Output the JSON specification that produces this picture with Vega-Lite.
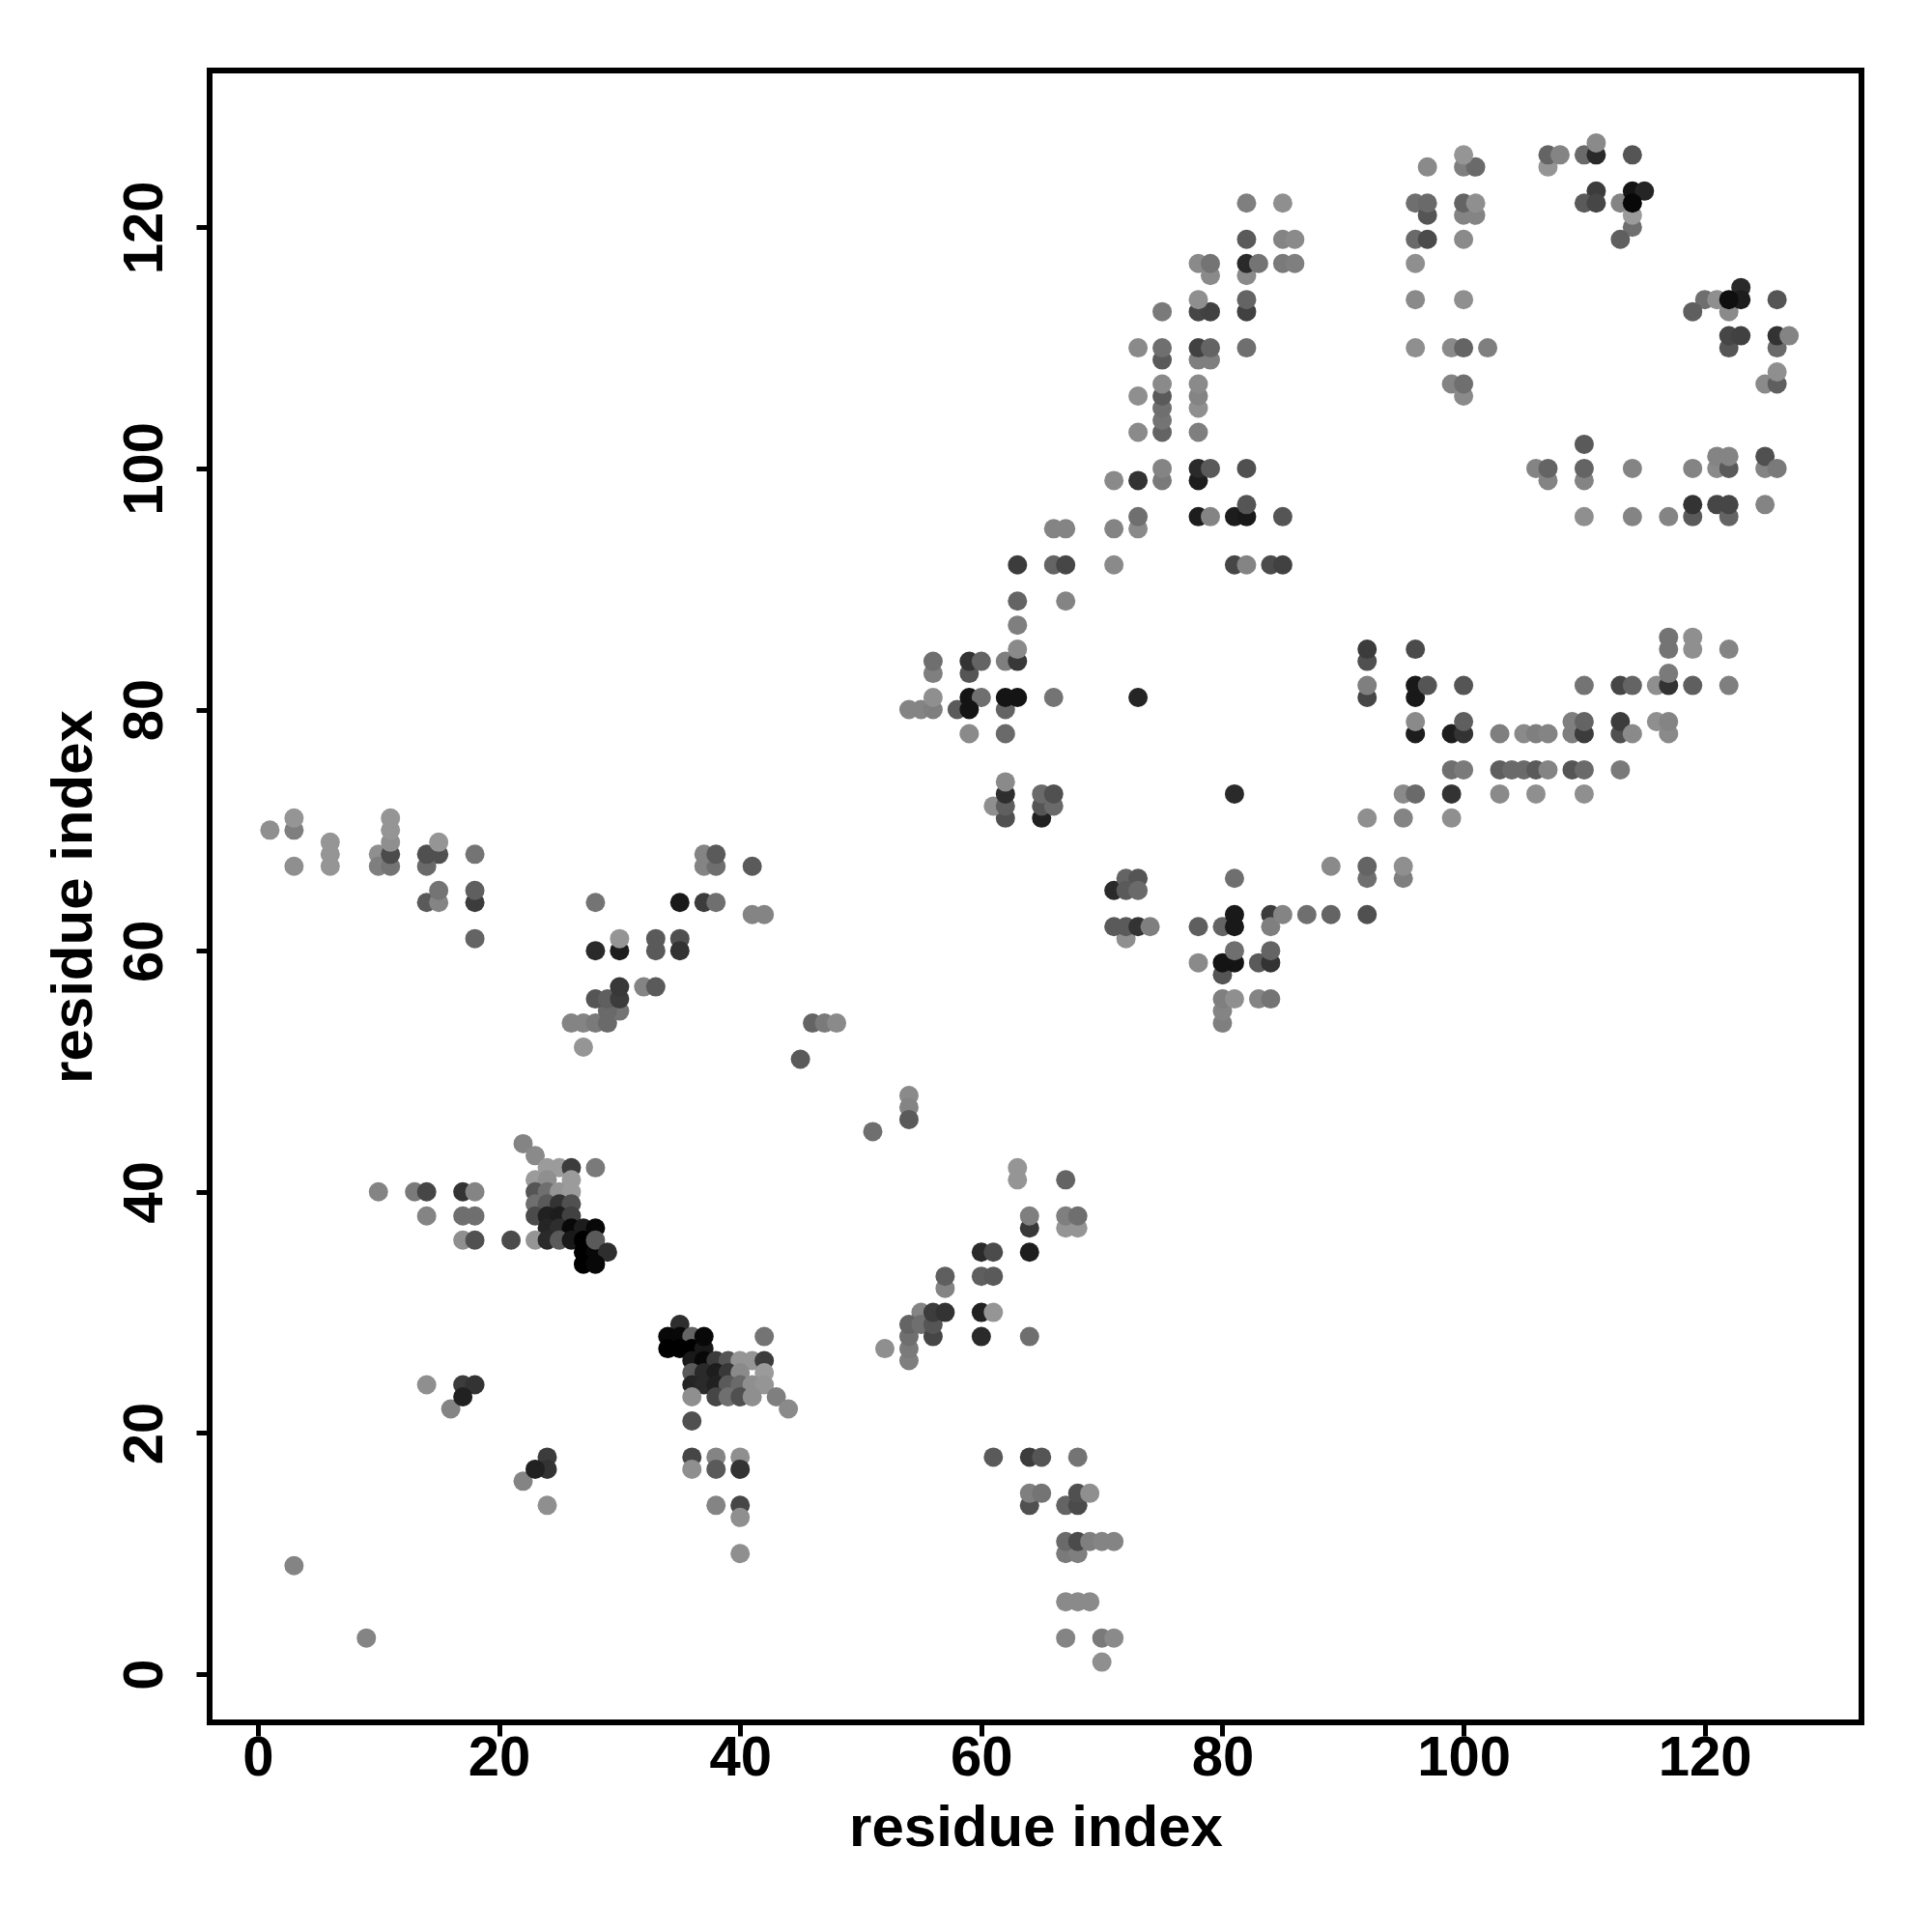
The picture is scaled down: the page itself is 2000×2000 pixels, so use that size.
{"$schema":"https://vega.github.io/schema/vega-lite/v6.json","width":1710,"height":1710,"autosize":{"type":"none"},"padding":{"left":217,"top":73,"right":73,"bottom":217},"background":"white","view":{"stroke":"black","strokeWidth":6,"fill":"white"},"data":{"values":[
{"i":3,"j":9,"d":130},{"i":9,"j":3,"d":130},{"i":16,"j":22,"d":130},{"i":14,"j":24,"d":140},{"i":17,"j":24,"d":60},{"i":18,"j":24,"d":50},{"i":17,"j":23,"d":30},{"i":22,"j":16,"d":130},{"i":24,"j":18,"d":60},{"i":24,"j":17,"d":50},{"i":23,"j":17,"d":30},{"i":24,"j":14,"d":140},
{"i":35,"j":29,"d":45},{"i":34,"j":28,"d":5},{"i":35,"j":28,"d":5},{"i":36,"j":28,"d":100},{"i":42,"j":28,"d":115},{"i":34,"j":27,"d":0},{"i":35,"j":27,"d":0},{"i":36,"j":27,"d":0},{"i":37,"j":27,"d":20},{"i":37,"j":28,"d":5},{"i":36,"j":26,"d":20},{"i":37,"j":26,"d":5},{"i":38,"j":26,"d":60},{"i":39,"j":26,"d":85},{"i":40,"j":26,"d":145},{"i":41,"j":26,"d":145},{"i":42,"j":26,"d":60},{"i":36,"j":25,"d":90},{"i":37,"j":25,"d":40},{"i":38,"j":25,"d":25},{"i":39,"j":25,"d":55},{"i":40,"j":25,"d":135},{"i":42,"j":25,"d":150},{"i":36,"j":24,"d":35},{"i":37,"j":24,"d":40},{"i":38,"j":24,"d":30},{"i":39,"j":24,"d":90},{"i":40,"j":24,"d":105},{"i":41,"j":24,"d":140},{"i":42,"j":24,"d":145},{"i":36,"j":23,"d":140},{"i":38,"j":23,"d":70},{"i":39,"j":23,"d":110},{"i":40,"j":23,"d":80},{"i":41,"j":23,"d":140},{"i":43,"j":23,"d":125},{"i":44,"j":22,"d":135},{"i":36,"j":21,"d":80},
{"i":22,"j":44,"d":130},{"i":23,"j":43,"d":135},{"i":24,"j":42,"d":150},{"i":25,"j":42,"d":150},{"i":26,"j":42,"d":60},{"i":28,"j":42,"d":120},{"i":23,"j":41,"d":150},{"i":24,"j":41,"d":140},{"i":26,"j":41,"d":150},{"i":23,"j":40,"d":85},{"i":24,"j":40,"d":110},{"i":25,"j":40,"d":145},{"i":26,"j":40,"d":150},{"i":23,"j":39,"d":110},{"i":24,"j":39,"d":90},{"i":25,"j":39,"d":50},{"i":26,"j":39,"d":80},{"i":23,"j":38,"d":75},{"i":24,"j":38,"d":30},{"i":25,"j":38,"d":25},{"i":26,"j":38,"d":65},{"i":24,"j":37,"d":35},{"i":25,"j":37,"d":45},{"i":26,"j":37,"d":5},{"i":27,"j":37,"d":25},{"i":28,"j":37,"d":5},{"i":21,"j":36,"d":75},{"i":23,"j":36,"d":145},{"i":24,"j":36,"d":40},{"i":25,"j":36,"d":90},{"i":26,"j":36,"d":20},{"i":27,"j":36,"d":0},{"i":27,"j":35,"d":0},{"i":28,"j":35,"d":5},{"i":28,"j":36,"d":90},{"i":29,"j":35,"d":45},{"i":27,"j":34,"d":0},{"i":28,"j":34,"d":5},
{"i":10,"j":40,"d":130},{"i":13,"j":40,"d":120},{"i":14,"j":40,"d":70},{"i":14,"j":38,"d":130},{"i":17,"j":40,"d":50},{"i":18,"j":40,"d":130},{"i":17,"j":38,"d":110},{"i":18,"j":38,"d":110},{"i":17,"j":36,"d":140},{"i":18,"j":36,"d":80},
{"i":36,"j":18,"d":70},{"i":36,"j":17,"d":140},{"i":38,"j":18,"d":130},{"i":38,"j":17,"d":90},{"i":40,"j":18,"d":140},{"i":40,"j":17,"d":50},{"i":38,"j":14,"d":130},{"i":40,"j":14,"d":70},{"i":40,"j":13,"d":140},{"i":40,"j":10,"d":140},
{"i":61,"j":18,"d":90},{"i":64,"j":18,"d":60},{"i":65,"j":18,"d":85},{"i":68,"j":18,"d":115},{"i":64,"j":14,"d":80},{"i":64,"j":15,"d":125},{"i":65,"j":15,"d":115},{"i":67,"j":14,"d":100},{"i":68,"j":14,"d":75},{"i":68,"j":15,"d":80},{"i":69,"j":15,"d":140},{"i":67,"j":10,"d":120},{"i":68,"j":10,"d":125},{"i":67,"j":11,"d":105},{"i":68,"j":11,"d":75},{"i":69,"j":11,"d":125},{"i":70,"j":11,"d":130},{"i":71,"j":11,"d":130},{"i":67,"j":6,"d":135},{"i":68,"j":6,"d":135},{"i":69,"j":6,"d":135},{"i":67,"j":3,"d":130},{"i":70,"j":3,"d":120},{"i":71,"j":3,"d":135},{"i":70,"j":1,"d":140},
{"i":63,"j":42,"d":145},{"i":63,"j":41,"d":145},{"i":67,"j":41,"d":100},{"i":64,"j":37,"d":55},{"i":64,"j":38,"d":125},{"i":67,"j":37,"d":145},{"i":68,"j":37,"d":145},{"i":67,"j":38,"d":125},{"i":68,"j":38,"d":110},{"i":60,"j":35,"d":40},{"i":61,"j":35,"d":75},{"i":64,"j":35,"d":25},{"i":60,"j":33,"d":95},{"i":61,"j":33,"d":90},{"i":57,"j":32,"d":130},{"i":57,"j":33,"d":95},{"i":55,"j":30,"d":130},{"i":60,"j":30,"d":30},{"i":61,"j":30,"d":145},{"i":54,"j":26,"d":125},{"i":54,"j":27,"d":120},{"i":54,"j":28,"d":110},{"i":54,"j":29,"d":100},{"i":55,"j":29,"d":110},{"i":56,"j":28,"d":70},{"i":56,"j":29,"d":85},{"i":56,"j":30,"d":60},{"i":57,"j":30,"d":50},{"i":60,"j":28,"d":40},{"i":64,"j":28,"d":110},{"i":52,"j":27,"d":140},
{"i":1,"j":70,"d":140},{"i":3,"j":70,"d":125},{"i":3,"j":71,"d":145},{"i":3,"j":67,"d":140},{"i":6,"j":67,"d":145},{"i":6,"j":68,"d":145},{"i":6,"j":69,"d":145},{"i":10,"j":68,"d":140},{"i":10,"j":67,"d":125},{"i":11,"j":67,"d":115},{"i":11,"j":68,"d":75},{"i":11,"j":69,"d":140},{"i":11,"j":70,"d":145},{"i":11,"j":71,"d":145},{"i":15,"j":68,"d":80},{"i":14,"j":67,"d":105},{"i":14,"j":68,"d":80},{"i":15,"j":69,"d":145},{"i":18,"j":68,"d":115},{"i":14,"j":64,"d":90},{"i":15,"j":64,"d":130},{"i":15,"j":65,"d":115},{"i":18,"j":64,"d":60},{"i":18,"j":65,"d":95},{"i":18,"j":61,"d":100},{"i":28,"j":64,"d":115},{"i":28,"j":60,"d":40},{"i":30,"j":60,"d":25},{"i":30,"j":61,"d":145},{"i":26,"j":54,"d":130},{"i":27,"j":54,"d":130},{"i":28,"j":54,"d":120},{"i":29,"j":54,"d":105},{"i":30,"j":55,"d":115},{"i":29,"j":55,"d":105},{"i":28,"j":56,"d":85},{"i":29,"j":56,"d":95},{"i":30,"j":56,"d":60},{"i":30,"j":57,"d":55},{"i":27,"j":52,"d":145},
{"i":32,"j":57,"d":130},{"i":33,"j":57,"d":90},{"i":33,"j":60,"d":90},{"i":33,"j":61,"d":90},{"i":35,"j":61,"d":80},{"i":35,"j":60,"d":50},{"i":35,"j":64,"d":20},{"i":37,"j":64,"d":60},{"i":38,"j":64,"d":110},{"i":37,"j":67,"d":130},{"i":38,"j":67,"d":110},{"i":37,"j":68,"d":130},{"i":38,"j":68,"d":90},{"i":41,"j":67,"d":90},{"i":41,"j":63,"d":130},{"i":42,"j":63,"d":130},{"i":45,"j":51,"d":90},{"i":46,"j":54,"d":100},{"i":47,"j":54,"d":120},{"i":48,"j":54,"d":135},{"i":51,"j":45,"d":110},{"i":54,"j":48,"d":135},{"i":54,"j":47,"d":130},{"i":54,"j":46,"d":90},
{"i":71,"j":65,"d":40},{"i":72,"j":66,"d":100},{"i":73,"j":66,"d":85},{"i":72,"j":65,"d":90},{"i":73,"j":65,"d":105},{"i":72,"j":61,"d":140},{"i":71,"j":62,"d":90},{"i":72,"j":62,"d":90},{"i":73,"j":62,"d":50},{"i":74,"j":62,"d":125},{"i":78,"j":62,"d":95},{"i":80,"j":62,"d":100},{"i":81,"j":66,"d":110},{"i":81,"j":62,"d":20},{"i":81,"j":63,"d":20},{"i":80,"j":58,"d":85},{"i":81,"j":59,"d":15},{"i":80,"j":59,"d":15},{"i":81,"j":60,"d":110},{"i":83,"j":59,"d":90},{"i":84,"j":59,"d":50},{"i":84,"j":60,"d":100},{"i":84,"j":63,"d":60},{"i":84,"j":62,"d":125},{"i":85,"j":63,"d":130},{"i":87,"j":63,"d":110},{"i":89,"j":63,"d":100},{"i":89,"j":67,"d":135},{"i":92,"j":66,"d":110},{"i":92,"j":67,"d":100},{"i":92,"j":63,"d":80},{"i":78,"j":59,"d":135},{"i":80,"j":54,"d":125},{"i":80,"j":55,"d":130},{"i":80,"j":56,"d":125},{"i":81,"j":56,"d":140},{"i":83,"j":56,"d":130},{"i":84,"j":56,"d":115},
{"i":92,"j":84,"d":80},{"i":92,"j":85,"d":60},{"i":96,"j":85,"d":75},{"i":92,"j":81,"d":70},{"i":92,"j":82,"d":125},{"i":96,"j":81,"d":20},{"i":96,"j":82,"d":20},{"i":97,"j":82,"d":85},{"i":100,"j":82,"d":85},{"i":96,"j":78,"d":25},{"i":96,"j":79,"d":135},{"i":99,"j":78,"d":25},{"i":100,"j":78,"d":50},{"i":100,"j":79,"d":95},{"i":103,"j":78,"d":125},{"i":105,"j":78,"d":135},{"i":106,"j":78,"d":125},{"i":107,"j":78,"d":130},{"i":109,"j":78,"d":125},{"i":109,"j":79,"d":125},{"i":110,"j":78,"d":60},{"i":110,"j":79,"d":100},{"i":113,"j":78,"d":80},{"i":113,"j":79,"d":60},{"i":114,"j":78,"d":135},{"i":116,"j":79,"d":140},{"i":117,"j":78,"d":135},{"i":117,"j":79,"d":130},{"i":110,"j":82,"d":115},{"i":113,"j":82,"d":70},{"i":114,"j":82,"d":100},{"i":116,"j":82,"d":140},{"i":117,"j":82,"d":50},{"i":117,"j":83,"d":120},{"i":119,"j":82,"d":95},{"i":122,"j":82,"d":125},{"i":117,"j":85,"d":115},{"i":117,"j":86,"d":115},{"i":119,"j":85,"d":140},{"i":119,"j":86,"d":140},{"i":122,"j":85,"d":130},
{"i":99,"j":75,"d":110},{"i":100,"j":75,"d":120},{"i":103,"j":75,"d":95},{"i":104,"j":75,"d":105},{"i":105,"j":75,"d":105},{"i":106,"j":75,"d":90},{"i":107,"j":75,"d":130},{"i":109,"j":75,"d":85},{"i":110,"j":75,"d":105},{"i":113,"j":75,"d":120},{"i":95,"j":73,"d":135},{"i":96,"j":73,"d":105},{"i":99,"j":73,"d":50},{"i":103,"j":73,"d":135},{"i":106,"j":73,"d":140},{"i":110,"j":73,"d":140},{"i":92,"j":71,"d":140},{"i":95,"j":71,"d":130},{"i":99,"j":71,"d":140},{"i":95,"j":66,"d":125},{"i":95,"j":67,"d":140},
{"i":73,"j":81,"d":35},{"i":81,"j":73,"d":40},{"i":75,"j":99,"d":120},{"i":75,"j":100,"d":130},{"i":73,"j":99,"d":50},{"i":71,"j":99,"d":135},{"i":78,"j":99,"d":25},{"i":78,"j":100,"d":40},{"i":79,"j":100,"d":90},{"i":82,"j":100,"d":80},{"i":78,"j":96,"d":25},{"i":79,"j":96,"d":130},{"i":81,"j":96,"d":25},{"i":82,"j":96,"d":20},{"i":82,"j":97,"d":85},{"i":85,"j":96,"d":85},{"i":73,"j":95,"d":135},{"i":73,"j":96,"d":110},{"i":71,"j":95,"d":130},{"i":71,"j":92,"d":135},{"i":81,"j":92,"d":70},{"i":82,"j":92,"d":130},{"i":84,"j":92,"d":75},{"i":85,"j":92,"d":65},
{"i":82,"j":122,"d":125},{"i":85,"j":122,"d":140},{"i":82,"j":119,"d":90},{"i":85,"j":119,"d":130},{"i":86,"j":119,"d":135},{"i":78,"j":117,"d":135},{"i":79,"j":116,"d":135},{"i":79,"j":117,"d":115},{"i":82,"j":116,"d":135},{"i":82,"j":117,"d":40},{"i":83,"j":117,"d":115},{"i":85,"j":117,"d":120},{"i":86,"j":117,"d":125},{"i":78,"j":113,"d":70},{"i":79,"j":113,"d":65},{"i":78,"j":114,"d":140},{"i":82,"j":113,"d":65},{"i":82,"j":114,"d":100},{"i":75,"j":113,"d":120},{"i":73,"j":110,"d":135},{"i":75,"j":109,"d":90},{"i":75,"j":110,"d":110},{"i":78,"j":109,"d":125},{"i":79,"j":109,"d":125},{"i":78,"j":110,"d":65},{"i":79,"j":110,"d":100},{"i":82,"j":110,"d":110},{"i":75,"j":103,"d":100},{"i":75,"j":104,"d":115},{"i":75,"j":105,"d":110},{"i":75,"j":106,"d":90},{"i":75,"j":107,"d":135},{"i":78,"j":105,"d":140},{"i":78,"j":106,"d":130},{"i":78,"j":107,"d":135},{"i":73,"j":106,"d":140},{"i":73,"j":103,"d":135},{"i":78,"j":103,"d":125},
{"i":56,"j":83,"d":125},{"i":56,"j":84,"d":110},{"i":59,"j":83,"d":85},{"i":59,"j":84,"d":50},{"i":60,"j":84,"d":100},{"i":62,"j":84,"d":125},{"i":63,"j":84,"d":55},{"i":63,"j":85,"d":135},{"i":63,"j":87,"d":125},{"i":54,"j":80,"d":130},{"i":55,"j":80,"d":130},{"i":56,"j":80,"d":125},{"i":56,"j":81,"d":140},{"i":58,"j":80,"d":90},{"i":59,"j":81,"d":15},{"i":60,"j":81,"d":110},{"i":59,"j":80,"d":15},{"i":62,"j":80,"d":100},{"i":62,"j":81,"d":15},{"i":63,"j":81,"d":15},{"i":66,"j":81,"d":115},{"i":59,"j":78,"d":135},{"i":62,"j":78,"d":105},{"i":62,"j":71,"d":80},{"i":61,"j":72,"d":140},{"i":62,"j":72,"d":95},{"i":62,"j":73,"d":45},{"i":62,"j":74,"d":135},{"i":65,"j":71,"d":30},{"i":65,"j":72,"d":85},{"i":66,"j":72,"d":105},{"i":65,"j":73,"d":105},{"i":66,"j":73,"d":80},
{"i":63,"j":89,"d":100},{"i":63,"j":92,"d":60},{"i":66,"j":92,"d":100},{"i":67,"j":92,"d":70},{"i":67,"j":89,"d":130},{"i":66,"j":95,"d":130},{"i":67,"j":95,"d":130},
{"i":97,"j":125,"d":135},{"i":100,"j":125,"d":125},{"i":101,"j":125,"d":105},{"i":100,"j":126,"d":145},{"i":96,"j":122,"d":110},{"i":97,"j":121,"d":85},{"i":97,"j":122,"d":105},{"i":100,"j":121,"d":130},{"i":101,"j":121,"d":130},{"i":100,"j":122,"d":100},{"i":101,"j":122,"d":140},{"i":96,"j":119,"d":105},{"i":97,"j":119,"d":75},{"i":100,"j":119,"d":135},{"i":96,"j":117,"d":140},{"i":96,"j":114,"d":135},{"i":100,"j":114,"d":140},{"i":96,"j":110,"d":140},{"i":99,"j":110,"d":135},{"i":100,"j":110,"d":100},{"i":102,"j":110,"d":125},{"i":99,"j":107,"d":130},{"i":100,"j":106,"d":135},{"i":100,"j":107,"d":110},
{"i":107,"j":125,"d":145},{"i":107,"j":126,"d":100},{"i":108,"j":126,"d":130},{"i":110,"j":126,"d":105},{"i":111,"j":126,"d":40},{"i":111,"j":127,"d":135},{"i":114,"j":126,"d":85},{"i":111,"j":123,"d":60},{"i":110,"j":122,"d":90},{"i":111,"j":122,"d":70},{"i":113,"j":122,"d":130},{"i":114,"j":120,"d":110},{"i":114,"j":121,"d":150},{"i":114,"j":123,"d":15},{"i":115,"j":123,"d":35},{"i":114,"j":122,"d":5},{"i":113,"j":119,"d":95},
{"i":120,"j":114,"d":110},{"i":121,"j":114,"d":140},{"i":122,"j":113,"d":135},{"i":123,"j":115,"d":40},{"i":123,"j":114,"d":25},{"i":122,"j":114,"d":10},{"i":119,"j":113,"d":95},{"i":126,"j":114,"d":85},{"i":122,"j":110,"d":85},{"i":122,"j":111,"d":70},{"i":123,"j":111,"d":65},{"i":126,"j":110,"d":105},{"i":126,"j":111,"d":50},{"i":127,"j":111,"d":130},{"i":125,"j":107,"d":135},{"i":126,"j":107,"d":95},{"i":126,"j":108,"d":140},
{"i":106,"j":100,"d":130},{"i":107,"j":99,"d":130},{"i":107,"j":100,"d":100},{"i":110,"j":102,"d":90},{"i":110,"j":99,"d":130},{"i":110,"j":100,"d":100},{"i":110,"j":96,"d":140},{"i":114,"j":100,"d":130},{"i":114,"j":96,"d":130},{"i":117,"j":96,"d":130},{"i":119,"j":100,"d":130},{"i":119,"j":96,"d":90},{"i":119,"j":97,"d":50},{"i":121,"j":100,"d":135},{"i":121,"j":101,"d":130},{"i":122,"j":100,"d":90},{"i":122,"j":101,"d":130},{"i":121,"j":97,"d":70},{"i":122,"j":96,"d":100},{"i":122,"j":97,"d":70},{"i":125,"j":100,"d":130},{"i":125,"j":101,"d":80},{"i":126,"j":100,"d":120},{"i":125,"j":97,"d":130}
]},"mark":{"type":"point","filled":true,"opacity":1,"shape":"circle","size":400,"strokeWidth":0,"clip":true},"encoding":{
"x":{"field":"i","type":"quantitative","scale":{"domain":[-4,133],"nice":false,"zero":false},"axis":{"title":"residue index","values":[0,20,40,60,80,100,120],"grid":false,"domain":false,"ticks":true,"tickColor":"black","tickWidth":5,"tickSize":14,"labelFont":"Liberation Sans","labelFontWeight":"bold","labelFontSize":58,"labelColor":"black","labelPadding":-6,"titleFont":"Liberation Sans","titleFontWeight":"bold","titleFontSize":60,"titleColor":"black","titlePadding":14}},
"y":{"field":"j","type":"quantitative","scale":{"domain":[-4,133],"nice":false,"zero":false},"axis":{"title":"residue index","values":[0,20,40,60,80,100,120],"grid":false,"domain":false,"ticks":true,"tickColor":"black","tickWidth":5,"tickSize":14,"labelFont":"Liberation Sans","labelFontWeight":"bold","labelFontSize":58,"labelColor":"black","labelAngle":-90,"labelAlign":"center","labelBaseline":"bottom","labelPadding":24,"titleFont":"Liberation Sans","titleFontWeight":"bold","titleFontSize":60,"titleColor":"black","titlePadding":14}},
"color":{"field":"d","type":"quantitative","scale":{"domain":[0,153],"range":["#000000","#9e9e9e"]},"legend":null}}}
